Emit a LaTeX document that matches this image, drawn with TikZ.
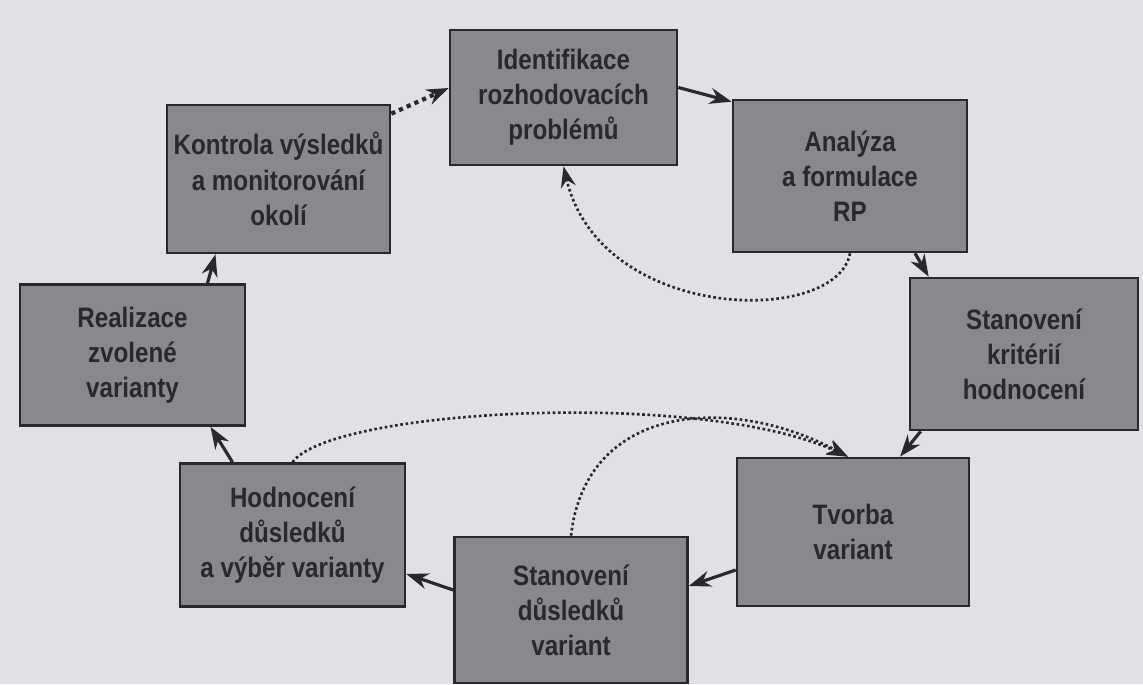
\documentclass[tikz,border=0pt]{standalone}
\usepackage{fontspec}
\setmainfont{Liberation Sans}[FakeStretch=0.86]
\usetikzlibrary{arrows.meta}
\definecolor{paper}{RGB}{224,224,229}
\definecolor{boxgray}{RGB}{136,136,141}
\definecolor{ink}{RGB}{40,40,45}
\begin{document}
\begin{tikzpicture}[
  box/.style={draw=ink, fill=boxgray, line width=1.5pt, text=ink, align=center,
    inner sep=0pt, font=\fontsize{16}{20}\selectfont\bfseries},
  flow/.style={-{Stealth[length=0.44cm,width=0.32cm]}, ink, line width=1.8pt},
  loop/.style={-{Stealth[length=0.42cm,width=0.3cm]}, ink, line width=1.5pt,
    dash pattern=on 1.5pt off 1.5pt}
]
  \fill[paper] (0,0) rectangle (22.86,13.68);
  \useasboundingbox (0,0) rectangle (22.86,13.68);

  \node[box, minimum width=4.54cm, minimum height=2.7cm] (ident) at (11.27,11.73) {Identifikace\\rozhodovacích\\problémů};
  \node[box, minimum width=4.68cm, minimum height=3.04cm] (analyza) at (17.0,10.16) {Analýza\\a formulace\\RP};
  \node[box, minimum width=4.56cm, minimum height=3.04cm] (kriteria) at (20.48,6.6) {Stanovení\\kritérií\\hodnocení};
  \node[box, minimum width=4.64cm, minimum height=2.96cm] (tvorba) at (17.06,3.04) {Tvorba\\variant};
  \node[box, minimum width=4.66cm, minimum height=2.92cm] (dusledky) at (11.42,1.48) {Stanovení\\důsledků\\variant};
  \node[box, minimum width=4.5cm, minimum height=2.86cm] (hodnoceni) at (5.85,2.98) {Hodnocení\\důsledků\\a výběr varianty};
  \node[box, minimum width=4.5cm, minimum height=2.82cm] (realizace) at (2.65,6.58) {Realizace\\zvolené\\varianty};
  \node[box, minimum width=4.46cm, minimum height=2.96cm] (kontrola) at (5.57,10.1) {Kontrola výsledků\\a monitorování\\okolí};

  % main cycle
  \draw[flow] ([yshift=0.2cm]ident.east) -- ([yshift=-0.06cm]analyza.north west);
  \draw[flow] ([xshift=1.3cm]analyza.south) -- ([xshift=0.4cm]kriteria.north west);
  \draw[flow] ([xshift=0.24cm]kriteria.south west) -- ([xshift=0.94cm]tvorba.north);
  \draw[flow] ([yshift=-0.76cm]tvorba.west) -- ([yshift=0.48cm]dusledky.east);
  \draw[flow] ([yshift=0.4cm]dusledky.west) -- ([yshift=-0.78cm]hodnoceni.east);
  \draw[flow] ([xshift=-1.2cm]hodnoceni.north) -- ([xshift=1.56cm]realizace.south);
  \draw[flow] ([xshift=1.5cm]realizace.north) -- ([xshift=-1.26cm]kontrola.south);
  \draw[flow, line width=2.4pt, dash pattern=on 2.4pt off 2.4pt]
    ([yshift=-0.2cm]kontrola.north east) -- ([yshift=0.19cm]ident.west);

  % feedback
  \draw[loop] (analyza.south) .. controls +(-0.26,-1.46) and +(0.74,-3.14) .. (ident.south);
  \draw[loop] (hodnoceni.north) .. controls +(0.76,1.06) and +(-2.96,1.36) .. ([xshift=-0.1cm]tvorba.north);
  \draw[loop] (dusledky.north) .. controls +(0.3,2.64) and +(-2.36,1.26) .. ([xshift=-0.1cm]tvorba.north);
\end{tikzpicture}
\end{document}
